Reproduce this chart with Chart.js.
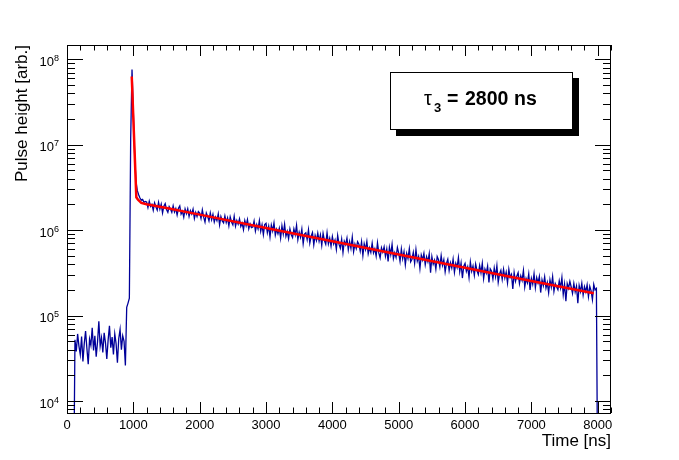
<!DOCTYPE html>
<html>
<head>
<meta charset="utf-8">
<script src="https://cdn.jsdelivr.net/npm/chart.js@4.4.1/dist/chart.umd.min.js"></script>
<style>
  html, body { margin: 0; padding: 0; background: #fff; }
  canvas { display: block; }
</style>
</head>
<body>
<canvas id="pulseChart" width="679" height="460"></canvas>
<script>
// histogram: 20 ns bins starting at 0 ns, pulse height in thousands (arb.), 0 = empty bin
const binWidth = 20;
const pulseK = [
  0, 0, 0, 0, 0, 0,
  52, 38, 61, 44, 35, 57, 29, 47, 66, 41, 27, 53, 45, 72, 39, 58, 33, 49, 86, 44,
  55, 37, 63, 48, 31, 52, 76, 42, 56, 35, 61, 47, 28, 54, 69, 40, 58, 50, 26,
  125, 140, 160, 12000, 76000,
  24000, 7500, 3700, 2900, 2600, 2380, 2250, 2290, 2120, 2170,
  // 1200 ns
  2135, 1841, 2185, 1895, 1999, 1711, 2085, 1879, 1714, 2116,
  1764, 2013, 1592, 1911, 2041, 1738, 1617, 1892, 1773, 1620,
  1921, 1631, 1791, 1504, 1800, 1922, 1540, 1661, 1419, 1771,
  1561, 1778, 1444, 1689, 1549, 1758, 1371, 1609, 1446, 1648,
  // 2000 ns
  1581, 1372, 1725, 1417, 1246, 1590, 1451, 1283, 1590, 1326,
  1533, 1246, 1421, 1290, 1551, 1152, 1441, 1282, 1215, 1468,
  1227, 1390, 1123, 1426, 1247, 1155, 1452, 1113, 1296, 1177,
  1357, 1106, 1206, 1012, 1295, 1127, 1326, 1035, 1182, 1072,
  1087, 1280, 975, 1162, 1033, 1292, 971, 1152, 886, 1162,
  // 3000 ns
  1201, 936, 1113, 833, 1144, 979, 1215, 876, 1024, 906,
  1053, 808, 1123, 902, 1170, 846, 966, 794, 1036, 884,
  818, 1034, 886, 1138, 774, 946, 823, 1028, 696, 899,
  931, 775, 1011, 708, 850, 936, 675, 867, 756, 926,
  744, 879, 665, 916, 757, 685, 931, 692, 804, 649,
  // 4000 ns
  841, 689, 765, 598, 864, 685, 616, 783, 547, 742,
  676, 807, 591, 735, 613, 828, 561, 686, 609, 734,
  685, 568, 731, 504, 693, 594, 737, 530, 621, 550,
  705, 542, 604, 496, 710, 541, 473, 621, 553, 637,
  496, 602, 429, 630, 518, 681, 465, 542, 481, 626,
  // 5000 ns
  537, 432, 604, 463, 558, 393, 533, 467, 605, 426,
  457, 549, 409, 593, 436, 492, 356, 510, 448, 535,
  394, 487, 428, 529, 318, 488, 400, 444, 349, 490,
  450, 371, 503, 388, 450, 325, 408, 456, 338, 415,
  361, 457, 322, 409, 365, 477, 327, 411, 275, 379,
  // 6000 ns
  409, 329, 372, 279, 424, 331, 380, 296, 400, 336,
  303, 386, 316, 409, 271, 350, 314, 380, 244, 352,
  331, 268, 361, 286, 383, 245, 307, 338, 266, 349,
  277, 322, 242, 348, 280, 303, 205, 319, 252, 289,
  318, 237, 292, 258, 337, 216, 271, 242, 308, 200,
  // 7000 ns
  272, 234, 309, 213, 278, 241, 286, 186, 262, 225,
  284, 210, 243, 185, 262, 216, 285, 193, 237, 218,
  201, 255, 211, 279, 177, 233, 147, 237, 209, 252,
  216, 182, 238, 190, 221, 140, 225, 191, 239, 174,
  218, 190, 229, 167, 220, 195, 154, 231, 200, 208,
  // 8000 ns
  0
];

// fitted curve (red)
const fitTimes = [976, 1045, 1070, 1120, 1200, 1500, 2000, 3000, 4000, 5000, 6000, 7000, 7940];
const fitValues = [6.3e7, 2.42e6, 2.28e6, 2.08e6, 2.01e6, 1.82e6, 1.52e6, 1.06e6, 7.42e5, 5.19e5, 3.64e5, 2.54e5, 1.83e5];

const xTicks = [0, 1000, 2000, 3000, 4000, 5000, 6000, 7000, 8000];
const yDecades = [4, 5, 6, 7, 8];
const xRange = [0, 8200];
const yRange = [7240, 1.47e8];

const fontName = '"Liberation Sans", Arial, Helvetica, sans-serif';
const yFloor = yRange[0] / 10; // empty bins drawn below the axis

const histPoints = pulseK.map((v, i) => ({ x: i * binWidth, y: v > 0 ? v * 1000 : yFloor }));
const fitPoints = fitTimes.map((t, i) => ({ x: t, y: fitValues[i] }));

// ROOT-like frame, inward ticks on all four sides, labels and the tau pave
const rootFrame = {
  id: 'rootFrame',
  afterDraw(chart) {
    const { ctx, chartArea: a, scales: { x, y } } = chart;
    ctx.save();
    ctx.strokeStyle = '#000';
    ctx.fillStyle = '#000';
    ctx.lineWidth = 1;

    ctx.beginPath();
    // x ticks every 200 ns
    for (let t = xRange[0]; t <= xRange[1]; t += 200) {
      const px = Math.round(x.getPixelForValue(t)) + 0.5;
      const len = t % 1000 === 0 ? 11 : 5.5;
      ctx.moveTo(px, a.bottom); ctx.lineTo(px, a.bottom - len);
      ctx.moveTo(px, a.top); ctx.lineTo(px, a.top + len);
    }
    // log y ticks
    for (let e = 3; e <= 8; e++) {
      for (let m = 1; m <= 9; m++) {
        const v = m * Math.pow(10, e);
        if (v < yRange[0] || v > yRange[1]) continue;
        const py = Math.round(y.getPixelForValue(v)) + 0.5;
        const len = m === 1 ? 16 : 8;
        ctx.moveTo(a.left, py); ctx.lineTo(a.left + len, py);
        ctx.moveTo(a.right, py); ctx.lineTo(a.right - len, py);
      }
    }
    ctx.stroke();
    ctx.strokeRect(a.left + 0.5, a.top + 0.5, a.right - a.left - 1, a.bottom - a.top);

    // x labels
    ctx.font = '13px ' + fontName;
    ctx.textAlign = 'center';
    ctx.textBaseline = 'alphabetic';
    xTicks.forEach(t => ctx.fillText(String(t), x.getPixelForValue(t), a.bottom + 16));

    // y labels 10^n
    yDecades.forEach(e => {
      const py = y.getPixelForValue(Math.pow(10, e));
      ctx.font = '9px ' + fontName;
      ctx.textAlign = 'right';
      const supW = ctx.measureText(String(e)).width;
      ctx.fillText(String(e), a.left - 8, py + 1.5);
      ctx.font = '13px ' + fontName;
      ctx.fillText('10', a.left - 8 - supW, py + 6.5);
    });

    // axis titles
    ctx.font = '17px ' + fontName;
    ctx.textAlign = 'right';
    ctx.fillText('Time [ns]', a.right, 446);
    ctx.save();
    ctx.translate(27, a.top);
    ctx.rotate(-Math.PI / 2);
    ctx.fillText('Pulse height [arb.]', 0, 0);
    ctx.restore();

    // pave with shadow
    ctx.fillRect(396, 78, 183, 58);
    ctx.fillStyle = '#fff';
    ctx.fillRect(390, 72, 183, 58);
    ctx.strokeRect(390.5, 72.5, 182, 57);
    ctx.fillStyle = '#000';
    ctx.textAlign = 'left';
    ctx.font = '20px ' + fontName;
    ctx.fillText('\u03c4', 424, 105);
    ctx.font = 'bold 13px ' + fontName;
    ctx.fillText('3', 434, 112);
    ctx.font = 'bold 19.5px ' + fontName;
    ctx.fillText('=', 447, 105);
    ctx.fillText('2800', 465, 105);
    ctx.fillText('ns', 514, 105);
    ctx.restore();
  }
};

new Chart(document.getElementById('pulseChart'), {
  type: 'line',
  data: {
    datasets: [
      {
        label: 'fit',
        data: fitPoints,
        borderColor: '#ff0000',
        borderWidth: 2.5,
        pointRadius: 0,
        tension: 0,
        order: 0,
      },
      {
        label: 'pulse',
        data: histPoints,
        borderColor: '#000099',
        borderWidth: 1.3,
        pointRadius: 0,
        tension: 0,
        order: 1,
      },
    ],
  },
  options: {
    responsive: false,
    animation: false,
    devicePixelRatio: 1,
    layout: { padding: { left: 67, top: 45, right: 68, bottom: 47 } },
    plugins: { legend: { display: false }, tooltip: { enabled: false } },
    scales: {
      x: { type: 'linear', min: xRange[0], max: xRange[1], display: false },
      y: { type: 'logarithmic', min: yRange[0], max: yRange[1], display: false },
    },
  },
  plugins: [rootFrame],
});
</script>
</body>
</html>
